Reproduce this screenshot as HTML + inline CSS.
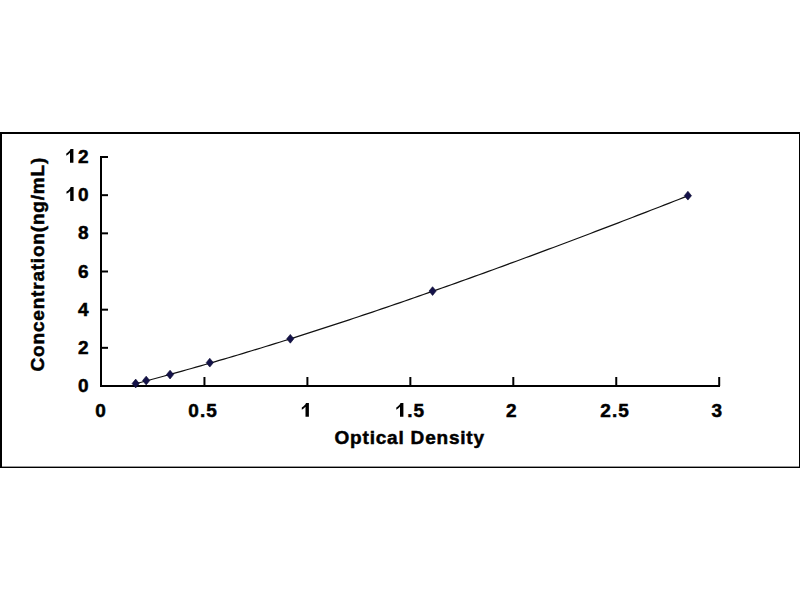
<!DOCTYPE html>
<html><head><meta charset="utf-8"><style>
html,body{margin:0;padding:0;background:#fff;}
body{width:800px;height:600px;overflow:hidden;}
svg{display:block;}
.h{fill:none;stroke:none;}
text{font-family:"Liberation Sans",sans-serif;font-weight:bold;fill:#000;stroke:#000;stroke-width:0.5px;}
</style></head><body>
<svg width="800" height="600" viewBox="0 0 800 600">
<rect x="0" y="0" width="800" height="600" fill="#fff"/>
<rect x="0" y="132" width="800" height="2" fill="#000"/><rect x="0" y="132" width="2" height="336" fill="#000"/><rect x="799" y="132" width="1" height="336" fill="#000"/><rect x="0" y="466.6" width="800" height="1.4" fill="#000"/>
<path d="M101,156 L101,386 L720,386" fill="none" stroke="#000" stroke-width="2"/>
<line x1="101" y1="386.00" x2="108" y2="386.00" stroke="#000" stroke-width="2"/><line x1="101" y1="347.83" x2="108" y2="347.83" stroke="#000" stroke-width="2"/><line x1="101" y1="309.67" x2="108" y2="309.67" stroke="#000" stroke-width="2"/><line x1="101" y1="271.50" x2="108" y2="271.50" stroke="#000" stroke-width="2"/><line x1="101" y1="233.34" x2="108" y2="233.34" stroke="#000" stroke-width="2"/><line x1="101" y1="195.17" x2="108" y2="195.17" stroke="#000" stroke-width="2"/><line x1="101" y1="157.00" x2="108" y2="157.00" stroke="#000" stroke-width="2"/><line x1="204.45" y1="377" x2="204.45" y2="386" stroke="#000" stroke-width="2"/><line x1="307.40" y1="377" x2="307.40" y2="386" stroke="#000" stroke-width="2"/><line x1="410.35" y1="377" x2="410.35" y2="386" stroke="#000" stroke-width="2"/><line x1="513.30" y1="377" x2="513.30" y2="386" stroke="#000" stroke-width="2"/><line x1="616.25" y1="377" x2="616.25" y2="386" stroke="#000" stroke-width="2"/><line x1="719.20" y1="377" x2="719.20" y2="386" stroke="#000" stroke-width="2"/>
<path d="M135.68,383.69 L140.32,382.46 L144.96,381.23 L149.60,379.99 L154.24,378.74 L158.88,377.48 L163.52,376.22 L168.16,374.94 L172.80,373.66 L177.44,372.38 L182.08,371.08 L186.73,369.78 L191.37,368.47 L196.01,367.15 L200.65,365.83 L205.29,364.49 L209.93,363.15 L214.57,361.81 L219.21,360.45 L223.85,359.09 L228.49,357.72 L233.13,356.35 L237.77,354.96 L242.41,353.57 L247.05,352.18 L251.69,350.77 L256.33,349.36 L260.97,347.95 L265.61,346.52 L270.25,345.09 L274.90,343.66 L279.54,342.22 L284.18,340.77 L288.82,339.31 L293.46,337.85 L298.10,336.38 L302.74,334.90 L307.38,333.42 L312.02,331.94 L316.66,330.44 L321.30,328.94 L325.94,327.44 L330.58,325.93 L335.22,324.41 L339.86,322.89 L344.50,321.36 L349.14,319.83 L353.78,318.29 L358.43,316.74 L363.07,315.19 L367.71,313.63 L372.35,312.07 L376.99,310.50 L381.63,308.93 L386.27,307.35 L390.91,305.77 L395.55,304.18 L400.19,302.59 L404.83,300.99 L409.47,299.38 L414.11,297.77 L418.75,296.16 L423.39,294.54 L428.03,292.92 L432.67,291.29 L437.31,289.65 L441.95,288.02 L446.60,286.37 L451.24,284.73 L455.88,283.08 L460.52,281.42 L465.16,279.76 L469.80,278.09 L474.44,276.42 L479.08,274.75 L483.72,273.07 L488.36,271.39 L493.00,269.71 L497.64,268.02 L502.28,266.32 L506.92,264.62 L511.56,262.92 L516.20,261.22 L520.84,259.51 L525.48,257.79 L530.12,256.08 L534.77,254.35 L539.41,252.63 L544.05,250.90 L548.69,249.17 L553.33,247.44 L557.97,245.70 L562.61,243.96 L567.25,242.21 L571.89,240.46 L576.53,238.71 L581.17,236.96 L585.81,235.20 L590.45,233.44 L595.09,231.68 L599.73,229.91 L604.37,228.14 L609.01,226.37 L613.65,224.60 L618.30,222.82 L622.94,221.04 L627.58,219.26 L632.22,217.47 L636.86,215.68 L641.50,213.89 L646.14,212.10 L650.78,210.30 L655.42,208.51 L660.06,206.71 L664.70,204.91 L669.34,203.10 L673.98,201.30 L678.62,199.49 L683.26,197.68 L687.90,195.87" fill="none" stroke="#111" stroke-width="1.2"/>
<path d="M135.68,379.12 l3.60,4.40 l-3.60,4.40 l-3.60,-4.40 z" fill="#141249" stroke="#07072e" stroke-width="0.6"/><path d="M146.18,376.14 l3.60,4.40 l-3.60,4.40 l-3.60,-4.40 z" fill="#141249" stroke="#07072e" stroke-width="0.6"/><path d="M170.06,370.17 l3.60,4.40 l-3.60,4.40 l-3.60,-4.40 z" fill="#141249" stroke="#07072e" stroke-width="0.6"/><path d="M209.80,358.25 l3.60,4.40 l-3.60,4.40 l-3.60,-4.40 z" fill="#141249" stroke="#07072e" stroke-width="0.6"/><path d="M290.31,334.39 l3.60,4.40 l-3.60,4.40 l-3.60,-4.40 z" fill="#141249" stroke="#07072e" stroke-width="0.6"/><path d="M432.59,286.69 l3.60,4.40 l-3.60,4.40 l-3.60,-4.40 z" fill="#141249" stroke="#07072e" stroke-width="0.6"/><path d="M687.90,191.27 l3.60,4.40 l-3.60,4.40 l-3.60,-4.40 z" fill="#141249" stroke="#07072e" stroke-width="0.6"/>
<path transform="translate(73.20,162.60)" d="M0.2,0.2 L-3.2,0.2 L-3.2,-9.8 Q-5.0,-7.9 -6.9,-6.9 L-6.9,-9.1 Q-5.4,-9.9 -4.2,-11.3 Q-3.1,-12.6 -2.7,-13.7 L0.2,-13.7 Z" fill="#000"/><path transform="translate(73.40,200.70)" d="M0.2,0.2 L-3.2,0.2 L-3.2,-9.8 Q-5.0,-7.9 -6.9,-6.9 L-6.9,-9.1 Q-5.4,-9.9 -4.2,-11.3 Q-3.1,-12.6 -2.7,-13.7 L0.2,-13.7 Z" fill="#000"/><path transform="translate(308.70,416.60)" d="M0.2,0.2 L-3.2,0.2 L-3.2,-9.8 Q-5.0,-7.9 -6.9,-6.9 L-6.9,-9.1 Q-5.4,-9.9 -4.2,-11.3 Q-3.1,-12.6 -2.7,-13.7 L0.2,-13.7 Z" fill="#000"/><path transform="translate(403.20,416.60)" d="M0.2,0.2 L-3.2,0.2 L-3.2,-9.8 Q-5.0,-7.9 -6.9,-6.9 L-6.9,-9.1 Q-5.4,-9.9 -4.2,-11.3 Q-3.1,-12.6 -2.7,-13.7 L0.2,-13.7 Z" fill="#000"/>
<g font-size="19" letter-spacing="1.1"><text x="89.6" y="392.00" text-anchor="end">0</text><text x="89.6" y="353.83" text-anchor="end">2</text><text x="89.6" y="315.67" text-anchor="end">4</text><text x="89.6" y="277.50" text-anchor="end">6</text><text x="89.6" y="239.34" text-anchor="end">8</text><text x="89.6" y="201.17" text-anchor="end"><tspan class="h">1</tspan>0</text><text x="89.6" y="163.00" text-anchor="end"><tspan class="h">1</tspan>2</text><text x="101.20" y="416.5" text-anchor="middle">0</text><text x="203.20" y="416.5" text-anchor="middle">0.5</text><text x="306.00" y="416.5" text-anchor="middle"><tspan class="h">1</tspan></text><text x="410.35" y="416.5" text-anchor="middle"><tspan class="h">1</tspan>.5</text><text x="511.85" y="416.5" text-anchor="middle">2</text><text x="615.20" y="416.5" text-anchor="middle">2.5</text><text x="717.30" y="416.5" text-anchor="middle">3</text></g>
<text x="409.7" y="444.2" font-size="19" letter-spacing="0.8" text-anchor="middle">Optical Density</text>
<text transform="translate(43.8,264.2) rotate(-90)" font-size="19" letter-spacing="0.8" text-anchor="middle">Concentration(ng/mL)</text>
</svg>
</body></html>
